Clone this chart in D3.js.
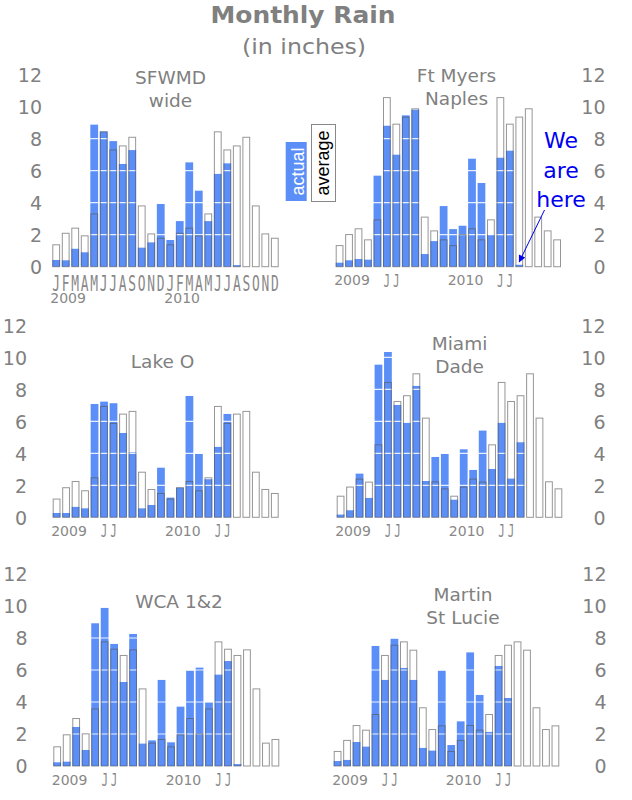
<!DOCTYPE html>
<html><head><meta charset="utf-8">
<script src="https://cdn.jsdelivr.net/npm/d3@7"></script>
<style>body{margin:0;background:#fff} svg{display:block}</style>
</head><body>
<script>
// ---------- data ----------
const months = ["J","F","M","A","M","J","J","A","S","O","N","D"];
const sparseMonths = ["","","","","","J","J","","","","",""];
const years = ["2009","2010"];
const yTicks = [0,2,4,6,8,10,12];
const chartTitle = "Monthly Rain";
const chartSubtitle = "(in inches)";
const legendLabels = ["actual","average"];
const noteLines = ["We","are","here"];
const regionNames = [["SFWMD","wide"],["Ft Myers","Naples"],["Lake O"],["Miami","Dade"],["WCA 1&2"],["Martin","St Lucie"]];

// 12 monthly averages (repeat each year), 24 monthly actuals (2009-2010)
const sfwmdAverage = [1.40,2.12,2.44,1.96,3.33,8.46,7.33,7.58,8.12,3.83,2.08,1.81];
const sfwmdActual  = [0.42,0.40,1.12,0.90,8.88,8.45,7.85,6.42,7.29,1.19,1.52,3.92,
                      1.67,2.85,6.52,4.75,2.85,5.80,6.46,0.10,null,null,null,null];
const ftMyersAverage = [1.35,2.04,2.40,1.71,2.96,10.6,8.94,9.38,9.90,3.13,2.27,1.71];
const ftMyersActual  = [0.25,0.40,0.48,0.44,5.69,8.81,7.00,9.46,9.81,0.79,1.60,3.79,
                        2.35,2.56,6.75,5.23,1.98,6.81,7.25,0.12,null,null,null,null];
const lakeOAverage = [1.17,1.88,2.27,1.69,2.50,6.96,5.90,6.48,6.65,2.85,1.77,1.52];
const lakeOActual  = [0.27,0.27,0.65,0.56,7.08,7.23,7.13,5.27,4.06,0.56,0.77,3.10,
                      1.23,1.85,7.58,3.96,2.38,4.40,6.46,null,null,null,null,null];
const miamiAverage = [1.35,1.92,2.42,2.23,4.56,8.46,7.27,7.63,9.00,6.23,2.25,1.81];
const miamiActual  = [0.17,0.44,2.73,1.21,9.54,10.33,7.02,5.90,8.21,2.27,3.77,3.96,
                      1.10,4.25,2.96,5.42,3.02,5.90,2.42,4.69,null,null,null,null];
const wcaAverage = [1.23,1.98,3.00,2.04,3.60,7.79,7.33,6.94,7.29,4.85,1.46,1.69];
const wcaActual  = [0.23,0.27,2.44,1.00,8.92,9.88,7.63,5.25,8.25,1.40,1.60,5.38,
                    1.48,3.71,5.96,6.15,3.98,5.71,6.56,0.12,null,null,null,null];
const martinAverage = [0.94,1.63,2.56,2.27,3.25,6.94,7.58,7.79,7.27,3.67,2.31,2.54];
const martinActual  = [0.31,0.38,1.50,1.21,7.50,5.38,7.96,6.13,5.38,1.13,0.96,5.96,
                       1.31,2.79,7.10,4.44,2.13,6.25,4.25,null,null,null,null,null];

const averages = [sfwmdAverage, ftMyersAverage, lakeOAverage, miamiAverage, wcaAverage, martinAverage];
const actuals  = [sfwmdActual, ftMyersActual, lakeOActual, miamiActual, wcaActual, martinActual];

// ---------- layout ----------
const W = 632, H = 800;
const BLUE = "#5b8ff7", GRAY = "#808080";
const FONT = "'DejaVu Sans', Verdana, sans-serif";
const MONO = "'DejaVu Sans Mono', monospace";
const layout = [
  {x0:52.3, x1:278.7, base:266.7, axisX:42,  tx:170.5, ty:84,    full:true},
  {x0:335.7,x1:561.0, base:266.7, axisX:605.5,tx:456.5, ty:81.7},
  {x0:52.7, x1:278.7, base:517.3, axisX:27,  tx:162.5, ty:368.3},
  {x0:336.7,x1:562.3, base:517.3, axisX:605.5,tx:459.5, ty:350},
  {x0:53.3, x1:279.3, base:766,   axisX:27.5,tx:179,   ty:608.3},
  {x0:333.7,x1:559.3, base:766,   axisX:606.5,tx:463,   ty:601}
];

const svg = d3.select("body").append("svg").attr("width", W).attr("height", H)
  .style("font-family", FONT);

// title
svg.append("text").attr("x", 303).attr("y", 23).attr("text-anchor","middle")
  .attr("font-size", 23).attr("font-weight","bold").attr("fill", GRAY)
  .attr("textLength", 185).attr("lengthAdjust","spacingAndGlyphs").text(chartTitle);
svg.append("text").attr("x", 304).attr("y", 54).attr("text-anchor","middle")
  .attr("font-size", 21).attr("fill", GRAY)
  .attr("textLength", 124).attr("lengthAdjust","spacingAndGlyphs").text(chartSubtitle);

const idx = d3.range(24);
const scales = [];

layout.forEach((L, p) => {
  const x = d3.scaleBand().domain(idx).range([L.x0, L.x1]).paddingInner(0.18).paddingOuter(0);
  const y = d3.scaleLinear().domain([0, 12]).range([L.base, L.base - 192]);
  scales.push({x, y});
  const avg = averages[p], act = actuals[p];
  const g = svg.append("g");

  // average (white fill)
  g.selectAll("rect.avgfill").data(idx).join("rect")
    .attr("x", i => x(i)).attr("width", x.bandwidth())
    .attr("y", i => y(avg[i % 12])).attr("height", i => y(0) - y(avg[i % 12]))
    .attr("fill", "#fff");

  // actual (blue)
  g.selectAll("rect.act").data(idx.filter(i => act[i] != null)).join("rect")
    .attr("x", i => x(i)).attr("width", x.bandwidth())
    .attr("y", i => y(act[i])).attr("height", i => y(0) - y(act[i]))
    .attr("fill", BLUE);

  // gridlines (white)
  g.selectAll("line.grid").data(yTicks.filter(t => t > 0 && t < 12)).join("line")
    .attr("x1", L.x0).attr("x2", L.x1)
    .attr("y1", t => y(t)).attr("y2", t => y(t))
    .attr("stroke", "#fff").attr("stroke-opacity", 0.85).attr("stroke-width", 1.2);

  // average outlines on top
  g.selectAll("rect.avgline").data(idx).join("rect")
    .attr("x", i => x(i) + 0.5).attr("width", x.bandwidth() - 1)
    .attr("y", i => y(avg[i % 12]) + 0.5).attr("height", i => y(0) - y(avg[i % 12]) - 0.5)
    .attr("fill", "none").attr("stroke", "#555").attr("stroke-opacity", 0.62).attr("stroke-width", 1);

  // y axis
  const ax = svg.append("g").attr("transform", `translate(${L.axisX},0)`)
    .call(d3.axisLeft(y).tickValues(yTicks).tickSize(0).tickPadding(0));
  ax.select(".domain").remove();
  ax.selectAll("text").attr("font-size", 19).attr("font-family", FONT).attr("fill", GRAY)
    .attr("dy", "0.36em");

  // panel title
  regionNames[p].forEach((line, k) => {
    svg.append("text").attr("x", L.tx).attr("y", L.ty + k * 23.3)
      .attr("text-anchor", "middle").attr("font-size", 18.5).attr("fill", GRAY).text(line);
  });

  // x labels
  const cx = i => x(i) + x.bandwidth() / 2;
  if (L.full) {
    idx.forEach(i => {
      svg.append("text").attr("transform", `translate(${cx(i)},${L.base + 24}) scale(0.6,1)`)
        .attr("text-anchor", "middle").attr("font-family", MONO).attr("font-size", 21.5)
        .attr("fill", "#888").text(months[i % 12]);
    });
    years.forEach((yr, k) => {
      svg.append("text").attr("x", x(k * 12) - 2).attr("y", L.base + 36.3)
        .attr("font-size", 14).attr("fill", "#888").text(yr);
    });
  } else {
    idx.filter(i => sparseMonths[i % 12]).forEach(i => {
      svg.append("text").attr("transform", `translate(${cx(i)},${L.base + 20}) scale(0.6,1)`)
        .attr("text-anchor", "middle").attr("font-family", MONO).attr("font-size", 18)
        .attr("fill", "#888").text(sparseMonths[i % 12]);
    });
    years.forEach((yr, k) => {
      svg.append("text").attr("x", x(k * 12) - 1.5).attr("y", L.base + 18.5)
        .attr("font-size", 14).attr("fill", "#888").text(yr);
    });
  }
});

// legend
const lg = svg.append("g").style("font-family", "'Liberation Sans', Arial, sans-serif");
lg.append("rect").attr("x", 285.7).attr("y", 142).attr("width", 21).attr("height", 59).attr("fill", BLUE);
lg.append("text").attr("transform", "translate(297.5,171.5) rotate(-90)").attr("text-anchor","middle")
  .attr("dy","0.35em").attr("font-size", 18).attr("fill","#fff").text(legendLabels[0]);
lg.append("rect").attr("x", 311.5).attr("y", 124.5).attr("width", 24).attr("height", 77)
  .attr("fill", "#fff").attr("stroke", "#888");
lg.append("text").attr("transform", "translate(324,163) rotate(-90)").attr("text-anchor","middle")
  .attr("dy","0.3em").attr("font-size", 18).attr("fill","#000").text(legendLabels[1]);

// annotation
const NOTE = "#0000f0";
noteLines.forEach((t, k) => {
  svg.append("text").attr("x", 561).attr("y", [148.3, 178, 206.5][k]).attr("text-anchor","middle")
    .attr("font-size", 22).attr("fill", NOTE).text(t);
});
svg.append("defs").append("marker").attr("id","arr").attr("viewBox","0 0 10 10")
  .attr("refX", 9).attr("refY", 5).attr("markerWidth", 9).attr("markerHeight", 7)
  .attr("markerUnits","userSpaceOnUse").attr("orient","auto")
  .append("path").attr("d","M0,0 L10,5 L0,10 z").attr("fill", NOTE);
const fs = scales[1];
const tipX = fs.x(19) + fs.x.bandwidth() / 2, tipY = fs.y(ftMyersActual[19]) - 3;
svg.append("line").attr("x1", 544.5).attr("y1", 210).attr("x2", tipX).attr("y2", tipY)
  .attr("stroke", NOTE).attr("stroke-width", 1).attr("marker-end","url(#arr)");
</script>
</body></html>
